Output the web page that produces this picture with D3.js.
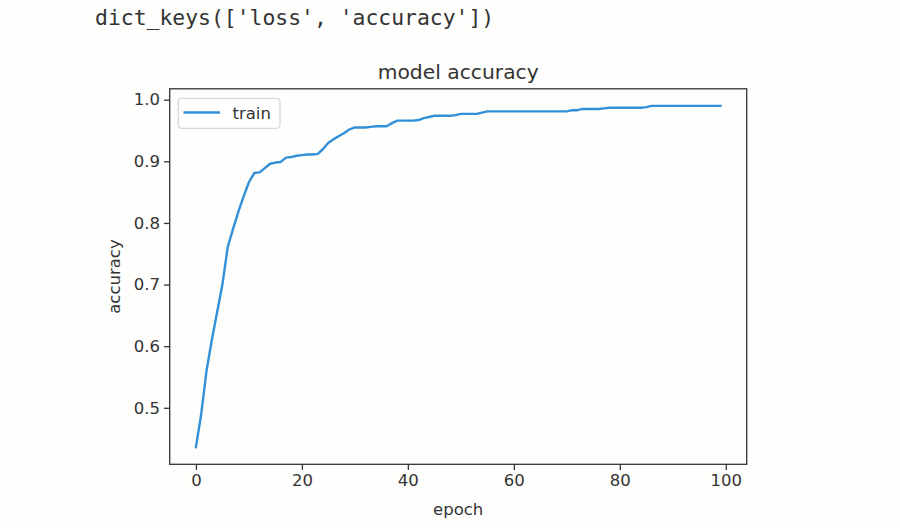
<!DOCTYPE html>
<html><head><meta charset="utf-8">
<script src="https://cdn.jsdelivr.net/npm/d3@7"></script>
<style>
html,body{margin:0;padding:0;background:#fefefd;}
svg{display:block;}
</style></head>
<body>
<svg id="chart" width="900" height="528"></svg>
<script>
const headerText = "dict_keys(['loss', 'accuracy'])";
const chartTitle = "model accuracy";
const xLabel = "epoch";
const yLabel = "accuracy";
const seriesName = "train";
const xTicks = [0, 20, 40, 60, 80, 100];
const yTicks = [0.5, 0.6, 0.7, 0.8, 0.9, 1.0];
const trainAcc = [
  0.436, 0.490, 0.560, 0.610, 0.655, 0.700, 0.761, 0.790, 0.818, 0.843,
  0.866, 0.881, 0.882, 0.889, 0.896, 0.898, 0.899, 0.906, 0.907, 0.909,
  0.910, 0.911, 0.911, 0.912, 0.920, 0.930, 0.936, 0.941, 0.946, 0.952,
  0.955, 0.955, 0.955, 0.956, 0.957, 0.957, 0.957, 0.962, 0.966, 0.966,
  0.966, 0.966, 0.967, 0.970, 0.972, 0.974, 0.974, 0.974, 0.974, 0.975,
  0.977, 0.977, 0.977, 0.977, 0.979, 0.981, 0.981, 0.981, 0.981, 0.981,
  0.981, 0.981, 0.981, 0.981, 0.981, 0.981, 0.981, 0.981, 0.981, 0.981,
  0.981, 0.983, 0.983, 0.985, 0.985, 0.985, 0.985, 0.986, 0.987, 0.987,
  0.987, 0.987, 0.987, 0.987, 0.987, 0.988, 0.990, 0.990, 0.990, 0.990,
  0.990, 0.990, 0.990, 0.990, 0.990, 0.990, 0.990, 0.990, 0.990, 0.990
];
const epochs = trainAcc.map((d, i) => i);

const svg = d3.select("#chart");
const L = 169.7, R = 746.7, T = 88.8, B = 464.3;
const textColor = "#333";
const font = "'DejaVu Sans', sans-serif";

// header
svg.append("text").attr("x", 95).attr("y", 25)
  .attr("font-family", "'DejaVu Sans Mono', 'Liberation Mono', monospace")
  .attr("font-size", 21.4).attr("fill", "#333").text(headerText);

const xMin = d3.min(epochs), xMax = d3.max(epochs);
const yMin = d3.min(trainAcc), yMax = d3.max(trainAcc);
const xm = (xMax - xMin) * 0.05, ym = (yMax - yMin) * 0.05;
const x = d3.scaleLinear().domain([xMin - xm, xMax + xm]).range([L, R]);
const y = d3.scaleLinear().domain([yMin - ym, yMax + ym]).range([B, T]);

// line
svg.append("path").datum(trainAcc)
  .attr("fill", "none").attr("stroke", "#3290d8").attr("stroke-width", 2.4)
  .attr("stroke-linejoin", "round").attr("stroke-linecap", "square")
  .attr("d", d3.line().x((d, i) => x(epochs[i])).y(d => y(d)));

// axes
const xAxis = d3.axisBottom(x).tickValues(xTicks).tickSize(5.6).tickPadding(4).tickFormat(d3.format("d"));
const yAxis = d3.axisLeft(y).tickValues(yTicks).tickSize(5.6).tickPadding(4).tickFormat(d3.format(".1f"));
const gx = svg.append("g").attr("transform", `translate(0,${B})`).call(xAxis);
const gy = svg.append("g").attr("transform", `translate(${L},0)`).call(yAxis);
[gx, gy].forEach(g => {
  g.select(".domain").remove();
  g.selectAll(".tick line").attr("stroke", textColor).attr("stroke-width", 1.3);
  g.selectAll(".tick text").attr("fill", textColor).attr("font-family", font).attr("font-size", 16.5);
});

// spines
svg.append("rect").attr("x", L).attr("y", T).attr("width", R - L).attr("height", B - T)
  .attr("fill", "none").attr("stroke", textColor).attr("stroke-width", 1.3);

// title and labels
svg.append("text").attr("x", (L + R) / 2).attr("y", 79).attr("text-anchor", "middle")
  .attr("font-family", font).attr("font-size", 20.3).attr("fill", textColor).text(chartTitle);
svg.append("text").attr("x", (L + R) / 2).attr("y", 515).attr("text-anchor", "middle")
  .attr("font-family", font).attr("font-size", 16.5).attr("fill", textColor).text(xLabel);
svg.append("text").attr("transform", `translate(120,${(T + B) / 2}) rotate(-90)`).attr("text-anchor", "middle")
  .attr("font-family", font).attr("font-size", 16.5).attr("fill", textColor).text(yLabel);

// legend
const lg = svg.append("g");
lg.append("rect").attr("x", 178.3).attr("y", 98.3).attr("width", 101.7).attr("height", 30)
  .attr("rx", 3.5).attr("fill", "#fff").attr("fill-opacity", 0.8).attr("stroke", "#d8d8d8").attr("stroke-width", 1.3);
lg.append("line").attr("x1", 183.5).attr("x2", 220).attr("y1", 112.5).attr("y2", 112.5)
  .attr("stroke", "#3290d8").attr("stroke-width", 2.4);
lg.append("text").attr("x", 232.5).attr("y", 118.5).attr("font-family", font).attr("font-size", 16.5)
  .attr("fill", textColor).text(seriesName);
</script>
</body></html>
